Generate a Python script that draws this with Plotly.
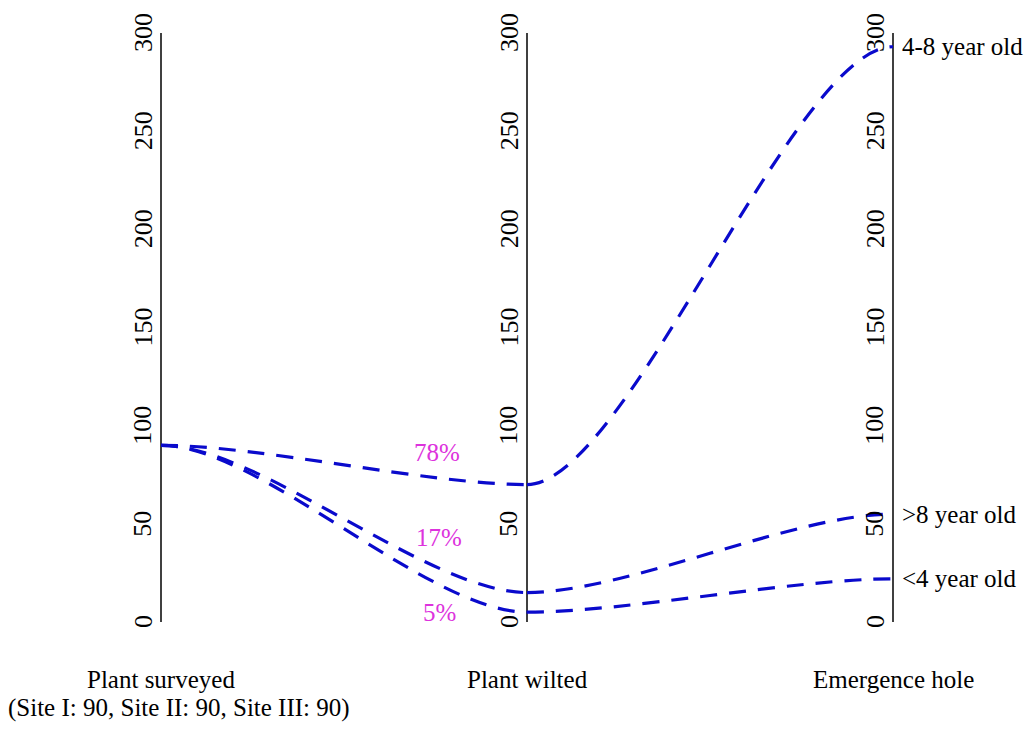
import plotly.graph_objects as go

# ---------------- data ----------------
stages = ["Plant surveyed", "Plant wilted", "Emergence hole"]
surveyed_note = "(Site I: 90, Site II: 90, Site III: 90)"
surveyed_value = 90
wilted_values = [70, 15, 5]
wilted_pct = ["78%", "17%", "5%"]
emergence_values = [293, 55, 22]
emergence_labels = ["4-8 year old", ">8 year old", "<4 year old"]
tick_values = [0, 50, 100, 150, 200, 250, 300]
tick_labels = ["0", "50", "100", "150", "200", "250", "300"]

# ---------------- style ----------------
W, H = 1024, 737
FONT = "Liberation Serif, Times New Roman, serif"
LINE_COLOR = "#0A0ACC"
PCT_COLOR = "#DD33DD"
axis_x = [0, 1, 2]
K = 0.27  # bezier handle fraction

fig = go.Figure()
shapes = []
annotations = []

def link(x0, y0, x1, y1):
    c0 = x0 + K * (x1 - x0)
    c1 = x1 - K * (x1 - x0)
    return dict(
        type="path", xref="x", yref="y",
        path=f"M {x0},{y0} C {c0},{y0} {c1},{y1} {x1},{y1}",
        line=dict(color=LINE_COLOR, width=3.2, dash="17px,12px"),
        layer="above",
    )

# vertical axes
for ax in axis_x:
    shapes.append(dict(type="line", xref="x", yref="y", x0=ax, x1=ax,
                       y0=0, y1=300, line=dict(color="black", width=1.5),
                       layer="below"))
    for v, t in zip(tick_values, tick_labels):
        annotations.append(dict(x=ax, y=v, xref="x", yref="y", text=t,
                                showarrow=False, textangle=-90, xshift=-18,
                                font=dict(family=FONT, size=26, color="black")))

# links surveyed -> wilted -> emergence
for wv, ev in zip(wilted_values, emergence_values):
    shapes.append(link(0, surveyed_value, 1, wv))
    shapes.append(link(1, wv, 2, ev))

# invisible points so the data sits on traces too
fig.add_trace(go.Scatter(x=[0] + [1] * 3 + [2] * 3,
                         y=[surveyed_value] + wilted_values + emergence_values,
                         mode="markers", marker=dict(size=1, opacity=0),
                         hoverinfo="skip", showlegend=False))

# percentage labels
pct_pos = [(0.754, 86.5), (0.76, 43), (0.76, 5)]
for (px, py), t in zip(pct_pos, wilted_pct):
    annotations.append(dict(x=px, y=py, xref="x", yref="y", text=t,
                            showarrow=False,
                            font=dict(family=FONT, size=25, color=PCT_COLOR)))

# right-side labels
for ev, t in zip(emergence_values, emergence_labels):
    annotations.append(dict(x=2, y=ev, xref="x", yref="y", text=t,
                            showarrow=False, xanchor="left", xshift=7,
                            font=dict(family=FONT, size=25, color="black")))

# bottom stage labels
for ax, t in zip(axis_x, stages):
    annotations.append(dict(x=ax, y=1 - 695 / H, xref="x", yref="paper",
                            text=t, showarrow=False,
                            font=dict(family=FONT, size=25, color="black")))
annotations.append(dict(x=0.05, y=1 - 724 / H, xref="x", yref="paper",
                        text=surveyed_note, showarrow=False,
                        font=dict(family=FONT, size=25, color="black")))

# pixel mapping: x=0 -> 161px, x=1 -> 528px, x=2 -> 893px ; y=0 -> 622px, y=300 -> 33px
pxu = (893 - 161) / 2
pyu = (622 - 33) / 300
x_range = [-161 / pxu, (W - 161) / pxu]
y_range = [-(H - 622) / pyu, 300 + 33 / pyu]

fig.update_layout(
    width=W, height=H,
    margin=dict(l=0, r=0, t=0, b=0),
    paper_bgcolor="white", plot_bgcolor="white",
    xaxis=dict(range=x_range, visible=False, fixedrange=True),
    yaxis=dict(range=y_range, visible=False, fixedrange=True),
    shapes=shapes, annotations=annotations,
    showlegend=False,
)

fig.write_html("out.html")
